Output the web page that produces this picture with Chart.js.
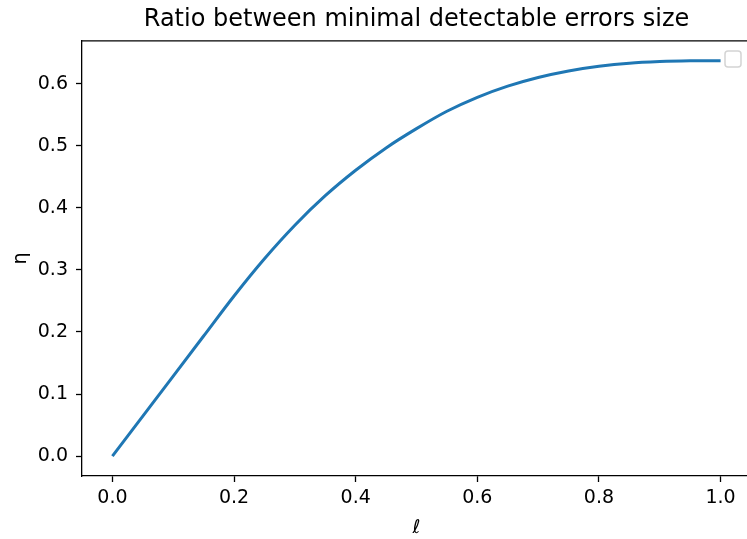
<!DOCTYPE html>
<html>
<head>
<meta charset="utf-8">
<script src="https://cdn.jsdelivr.net/npm/chart.js@4.4.0/dist/chart.umd.min.js"></script>
<style>
  html, body { margin: 0; padding: 0; overflow: hidden; background: #fff; }
  #wrap { width: 747px; height: 539px; overflow: hidden; position: relative; }
  canvas { display: block; }
</style>
</head>
<body>
<div id="wrap"><canvas id="lineChart" width="751" height="539"></canvas></div>
<script>
// values
var ell = [0, 0.05, 0.1, 0.15, 0.2, 0.25, 0.3, 0.35, 0.4, 0.45, 0.5,
           0.55, 0.6, 0.65, 0.7, 0.75, 0.8, 0.85, 0.9, 0.95, 1.0];
var eta = [0, 0.0645, 0.129, 0.1935, 0.258, 0.318, 0.372, 0.4195, 0.4605, 0.4965, 0.5275,
           0.5555, 0.578, 0.596, 0.610, 0.6205, 0.628, 0.633, 0.6355, 0.6367, 0.637];
var xTicks = [0, 0.2, 0.4, 0.6, 0.8, 1.0];
var yTicks = [0, 0.1, 0.2, 0.3, 0.4, 0.5, 0.6];

var font = 'DejaVu Sans';

// top spine + the empty matplotlib legend frame
var frame = {
    id: 'frame',
    afterDraw: function(chart) {
        var c = chart.ctx, a = chart.chartArea;
        c.save();
        c.strokeStyle = '#000';
        c.lineWidth = 1.3;
        c.beginPath();
        c.moveTo(a.left, a.top);
        c.lineTo(a.right, a.top);
        c.stroke();
        c.strokeStyle = '#d4d4d4';
        c.lineWidth = 1.5;
        c.beginPath();
        c.roundRect(725, 51, 16, 16, 3);
        c.stroke();
        c.restore();
    }
};

var ctx = document.getElementById('lineChart').getContext('2d');
var myChart = new Chart(ctx, {
    type: 'line',
    data: {
        labels: ell,
        datasets: [{
            data: ell.map(function(x, i) { return {x: x, y: eta[i]}; }),
            borderColor: '#1f77b4',
            borderWidth: 3,
            pointRadius: 0,
            fill: false,
            cubicInterpolationMode: 'monotone'
        }]
    },
    options: {
        responsive: false,
        animation: false,
        devicePixelRatio: 1,
        layout: { padding: { left: 0, right: 0, top: 0, bottom: 0 } },
        plugins: {
            legend: { display: false },
            tooltip: { enabled: false },
            title: {
                display: true,
                fullSize: false,
                text: 'Ratio between minimal detectable errors size',
                color: '#000',
                font: { family: font, size: 24, weight: 'normal' },
                padding: { top: 5, bottom: 7 }
            }
        },
        scales: {
            x: {
                type: 'linear',
                min: -0.05,
                max: 1.05,
                afterBuildTicks: function(s) { s.ticks = xTicks.map(function(v) { return {value: v}; }); },
                afterFit: function(s) { s.height = 63; },
                ticks: {
                    color: '#000',
                    font: { family: font, size: 19 },
                    padding: 5,
                    maxRotation: 0,
                    callback: function(v) { return v.toFixed(1); }
                },
                grid: { drawOnChartArea: false, drawTicks: true, tickLength: 6, color: '#000', tickWidth: 1.3 },
                border: { display: true, color: '#000', width: 1.3 },
                title: {
                    display: true,
                    text: 'ℓ',
                    color: '#000',
                    font: { family: font, size: 19, style: 'italic' },
                    padding: { top: 0, bottom: 0 }
                }
            },
            y: {
                min: -0.032,
                max: 0.669,
                afterBuildTicks: function(s) { s.ticks = yTicks.map(function(v) { return {value: v}; }); },
                afterFit: function(s) { s.width = 82; },
                ticks: {
                    color: '#000',
                    font: { family: font, size: 19 },
                    padding: 8,
                    callback: function(v) { return v.toFixed(1); }
                },
                grid: { drawOnChartArea: false, drawTicks: true, tickLength: 6, color: '#000', tickWidth: 1.3 },
                border: { display: true, color: '#000', width: 1.3 },
                title: {
                    display: true,
                    text: 'η',
                    color: '#000',
                    font: { family: font, size: 19 },
                    padding: { top: 10, bottom: 0 }
                }
            }
        }
    },
    plugins: [frame]
});
</script>
</body>
</html>
